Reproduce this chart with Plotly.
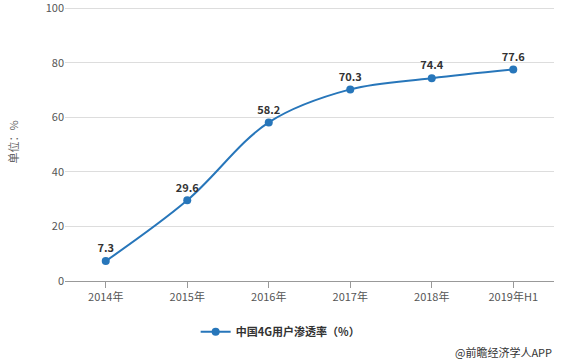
import plotly.graph_objects as go

categories = ["2014年", "2015年", "2016年", "2017年", "2018年", "2019年H1"]
values = [7.3, 29.6, 58.2, 70.3, 74.4, 77.6]
series_name = "中国4G用户渗透率（%）"
y_ticks = [0, 20, 40, 60, 80, 100]

FONT = "Microsoft YaHei, Noto Sans CJK SC, sans-serif"
COLOR = "#2776ba"

fig = go.Figure()
fig.add_trace(go.Scatter(
    x=categories, y=values, name=series_name,
    mode="lines+markers+text",
    line=dict(color=COLOR, width=2, shape="spline", smoothing=1.0),
    marker=dict(color=COLOR, size=8),
    text=[f"{v:.1f}" for v in values],
    textposition="top center",
    textfont=dict(family=FONT, size=11, color="#333333", weight="bold"),
    cliponaxis=False,
))

fig.update_layout(
    width=563, height=363,
    margin=dict(l=65, r=9, t=3, b=82, autoexpand=False),
    paper_bgcolor="white", plot_bgcolor="white",
    font=dict(family=FONT, size=11, color="#555555"),
    showlegend=True,
    legend=dict(orientation="h", x=0.44, xanchor="center", y=-0.13, yanchor="top",
                font=dict(size=11, color="#333333", weight="bold")),
    xaxis=dict(
        type="category", range=[-0.5, 5.5],
        showgrid=False, showline=True, linecolor="#999999", linewidth=1,
        ticks="outside", ticklen=6, tickcolor="#999999",
        tickfont=dict(size=11, color="#555555"),
    ),
    yaxis=dict(
        range=[0, 102], tickvals=y_ticks, ticklabeloverflow="allow",
        showgrid=True, gridcolor="#dddddd", gridwidth=1,
        zeroline=False, showline=False,
        tickfont=dict(size=11, color="#555555"),
        title=dict(text="单位：%", font=dict(size=11, color="#666666"), standoff=24),
    ),
    annotations=[dict(
        text="@前瞻经济学人APP", xref="paper", yref="paper",
        x=1.0, y=-0.22, xanchor="right", yanchor="top", showarrow=False,
        font=dict(size=11, color="#333333"),
    )],
)

fig.write_html("out.html", config={"displayModeBar": False},
               post_script="document.body.style.margin='0';document.body.style.padding='0';")
